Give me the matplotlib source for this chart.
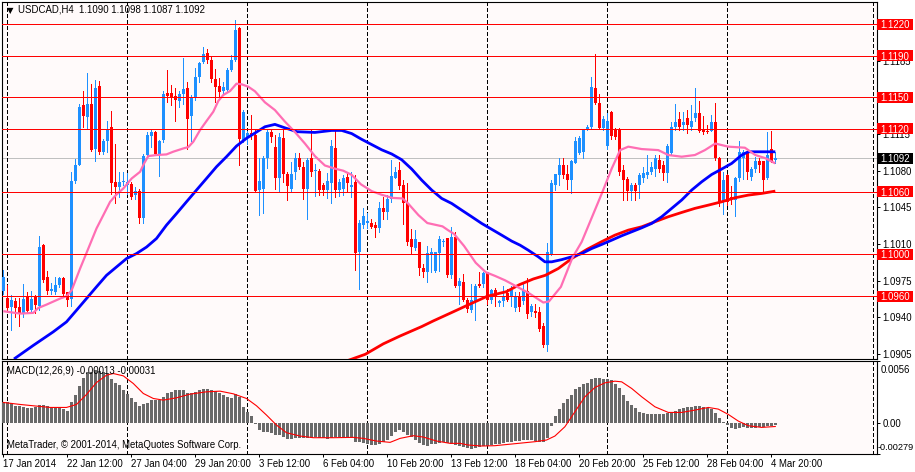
import numpy as np
import matplotlib
matplotlib.use("Agg")
import matplotlib.pyplot as plt
from matplotlib.patches import Rectangle
import matplotlib.transforms as mtransforms

# ---------------- data (prices in pips: 1092 -> 1.1092) ----------------
title_text = "USDCAD,H4  1.1090 1.1098 1.1087 1.1092"
macd_text = "MACD(12,26,9) -0.00013 -0.00031"
copyright_text = "MetaTrader, \u00a9 2001-2014, MetaQuotes Software Corp."

opens = [965,958,950,955,950,944,960,947,959,951,
         1009,978,965,964,971,977,964,957,1070,1085,
         1143,1131,1144,1101,1161,1098,1108,1122,1069,1064,
         1069,1066,1067,1057,1061,1035,1095,1113,1117,1096,
         1109,1154,1154,1151,1147,1153,1159,1132,1150,1170,
         1184,1193,1186,1168,1161,1156,1157,1176,1186,1216,
         1109,1112,1116,1114,1062,1063,1092,1117,1103,1073,
         1111,1077,1063,1079,1092,1084,1063,1092,1080,1080,
         1066,1062,1068,1102,1062,1063,1074,1064,1069,1002,
         1028,1030,1030,1028,1025,1044,1041,1053,1073,1081,
         1066,1049,1015,1006,1012,987,983,999,984,1001,
         1012,1016,980,1017,970,974,956,947,955,972,
         972,983,956,966,954,955,963,959,949,960,
         955,965,945,946,945,932,913,1000,1066,1076,
         1085,1077,1071,1087,1097,1098,1120,1122,1159,1145,
         1121,1104,1136,1119,1120,1081,1072,1061,1066,1066,
         1073,1076,1079,1082,1090,1085,1078,1097,1122,1129,
         1124,1130,1122,1130,1135,1119,1118,1118,1127,1092,
         1050,1076,1055,1052,1073,1092,1098,1074,1082,1089,
         1089,1073,1101,1090]
highs = [985,971,961,958,958,972,964,965,961,1018,
         1010,984,973,978,978,978,964,1079,1091,1144,
         1156,1173,1163,1167,1166,1110,1128,1137,1106,1079,
         1079,1078,1069,1064,1063,1096,1117,1119,1118,1109,
         1156,1176,1162,1159,1156,1188,1165,1152,1178,1184,
         1198,1196,1190,1177,1169,1165,1178,1191,1224,1217,
         1138,1118,1133,1120,1092,1094,1119,1120,1114,1116,
         1120,1079,1088,1097,1097,1088,1092,1120,1086,1082,
         1068,1078,1109,1120,1072,1076,1078,1079,1076,1033,
         1044,1040,1034,1031,1050,1055,1057,1090,1084,1088,
         1071,1068,1024,1023,1012,991,1008,1006,1002,1018,
         1015,1016,1026,1021,977,981,958,972,972,983,
         983,983,967,968,956,970,967,970,964,964,
         972,977,953,953,950,934,1011,1071,1077,1092,
         1092,1085,1090,1112,1113,1120,1124,1170,1192,1153,
         1132,1135,1137,1121,1121,1085,1074,1068,1068,1078,
         1084,1095,1088,1095,1095,1089,1106,1127,1144,1136,
         1136,1138,1143,1159,1147,1132,1124,1133,1145,1093,
         1079,1077,1065,1074,1108,1100,1099,1084,1093,1092,
         1089,1117,1118,1098]
lows = [962,945,928,940,932,940,944,944,944,947,
        974,962,962,962,969,960,951,951,1068,1085,
        1122,1120,1099,1089,1096,1096,1098,1058,1049,1055,
        1066,1058,1053,1053,1030,1030,1092,1103,1095,1075,
        1107,1146,1143,1128,1141,1144,1101,1108,1148,1165,
        1183,1183,1165,1146,1151,1153,1155,1175,1185,1085,
        1107,1106,1110,1060,1038,1040,1083,1107,1063,1061,
        1069,1052,1061,1072,1082,1053,1034,1075,1056,1057,
        1057,1054,1049,1055,1056,1057,1060,1055,985,967,
        1025,1025,1025,1017,1021,1034,1034,1050,1073,1063,
        1029,1009,1001,1004,980,978,974,983,983,984,
        1008,978,977,969,953,955,945,945,937,969,
        969,953,954,951,951,951,955,951,946,946,
        953,939,941,940,927,911,908,999,1062,1066,
        1073,1063,1059,1087,1096,1092,1119,1120,1144,1120,
        1119,1101,1110,1110,1076,1052,1052,1052,1052,1054,
        1069,1073,1077,1075,1079,1071,1069,1095,1119,1119,
        1119,1116,1119,1128,1117,1115,1116,1118,1090,1046,
        1039,1047,1048,1037,1070,1072,1072,1071,1079,1079,
        1061,1072,1088,1087]
closes = [978,949,956,949,944,957,946,957,952,1007,
          976,965,967,971,977,962,956,1070,1085,1141,
          1132,1144,1100,1159,1098,1108,1119,1068,1064,1069,
          1070,1069,1055,1061,1035,1094,1114,1117,1096,1108,
          1153,1151,1150,1148,1153,1158,1129,1150,1170,1183,
          1192,1186,1168,1160,1155,1160,1176,1186,1215,1110,
          1136,1116,1113,1061,1070,1092,1117,1112,1073,1112,
          1077,1065,1077,1092,1084,1063,1090,1079,1081,1062,
          1062,1070,1104,1062,1069,1073,1068,1066,1001,1030,
          1037,1032,1026,1025,1044,1041,1053,1075,1079,1065,
          1049,1012,1007,1015,987,983,1001,1002,1002,1015,
          1013,980,1017,970,975,956,948,956,970,970,
          982,956,966,959,955,959,956,966,960,950,
          966,943,951,944,929,913,1002,1068,1077,1085,
          1076,1071,1089,1108,1111,1119,1122,1160,1145,1121,
          1129,1128,1113,1112,1079,1071,1061,1066,1061,1076,
          1078,1079,1084,1092,1082,1078,1104,1122,1127,1122,
          1127,1124,1128,1135,1118,1117,1117,1127,1092,1050,
          1071,1050,1053,1073,1098,1098,1079,1082,1089,1085,
          1071,1095,1089,1092]

# moving averages: bar position and value (pips)
pink_bars = [0,4.2,7.5,8.75,10.8,14.2,15.8,17.1,19.2,21.25,23.3,25,26.7,28.3,30,
             32.1,34.2,35.2,36.25,38.3,40.8,42.5,45,46.25,47.5,49.2,50.8,52.5,53.75,55,
             56.7,58.3,59.6,61.25,62.9,65.4,67.9,70.4,72.9,75.4,77.9,80.4,82.9,85,87.1,
             89.4,92.1,94.6,97.3,99.8,101.2,103.8,106,109.8,111.25,112.7,115.2,118.1,120.6,122.9,
             125.4,128,131.5,135,136.4,139.4,142.3,144.6,147.1,149.6,152.1,154.2,156.25,159.6,163.75,
             166.25,169.6,172.9,175.4,178,181.25,185.4,188,190.5,193]
pink_vals = [945.7,943.4,944.1,948.8,952,957.8,960,965.8,986.5,1005.6,1024.8,1037.5,1050.3,1057.3,1063,
             1072.6,1079,1087,1094,1095,1095.6,1098.2,1101.3,1102.6,1107.7,1118.9,1127.5,1136.4,1146.7,1152.4,
             1156.2,1163.2,1162.6,1160.3,1156,1145.4,1138,1127,1117,1106,1094,1085,1082,1080,1076,
             1067,1060.5,1057,1054,1053.5,1048.7,1037.5,1030,1026.8,1023,1019.5,1008,992,983,979.5,
             975.3,970,962.7,954,955,969,997,1012,1035,1058,1082,1099.7,1103,1100.7,1099.7,
             1095,1093.4,1095,1099.7,1106,1103,1102,1095,1092,1087]
blue_bars = [2.67,7.5,10,12.5,15.8,18.3,20.8,23.3,25.8,28.3,30.8,33.3,35.8,38.3,40.8,
             43.3,45.8,48.3,50.8,53.3,55.8,58.3,60.8,62.9,65.4,67.9,70.4,73.4,77.9,82.1,
             84.6,87.1,89.6,92.1,94.6,97.1,99.6,102.1,104.6,107.1,109.6,112.1,114.6,117.1,119.6,
             122.1,124.6,127.1,129.2,131.25,133.75,135.4,137.1,139.6,142.1,144.6,147.1,149.6,152.1,154.6,
             157.1,159.6,162.1,164.6,167.1,169.6,172.1,174.6,177.1,179.6,182.1,184.6,186.25,188.75,193]
blue_vals = [900,913,919.5,926,935.5,946.6,957.8,969,980,988,996,1000.8,1007,1015.2,1028,
             1039,1050.3,1061.5,1072.6,1083.8,1093.4,1103.6,1111,1116,1122,1124.3,1121,1117.3,1116.6,1118.5,
             1118.5,1115.5,1110,1105,1100,1096,1090.5,1081.6,1071,1061.5,1053.5,1048.7,1042.3,1036,1029.6,
             1024,1018.4,1012.7,1008.8,1004,997.7,992.9,992.9,995,997.7,1000.8,1005.6,1009.5,1013.6,1017.8,
             1021.6,1025.4,1029.6,1036,1044,1052,1061.5,1069.4,1076.4,1081.6,1087,1095,1098.1,1098.1,1098.1]
red_bars = [85,90.5,95,99.2,104.6,107.5,112.7,115.8,121,125.8,129,132.5,135.5,138.75,142.3,
            146,149.5,152.9,156.25,159.6,162.9,166.25,169.6,172.9,176.25,179.6,182.9,186.25,189.6,193]
red_vals = [897,904.5,914.5,922,931,936.4,945.5,951,960,964.4,971,976.5,980,986.5,996.5,
            1005,1012,1018.4,1023.2,1026.4,1031.2,1036,1040.1,1044,1047.1,1050.3,1054.1,1056.7,1058.3,1060.5]

# MACD main (histogram) in units of 0.00001, one per bar
macd_main = [186,186,177,156,156,147,138,138,147,162,
             162,156,147,138,138,126,111,192,252,336,
             408,462,462,477,468,462,447,402,366,342,
             297,258,222,192,156,168,183,204,207,207,
             237,267,282,294,297,294,273,273,282,300,
             309,309,300,288,267,252,231,228,258,237,
             147,102,63,-12,-63,-84,-84,-93,-108,-108,
             -123,-144,-144,-138,-132,-132,-132,-132,-129,-138,
             -138,-144,-138,-129,-126,-126,-123,-132,-168,-174,
             -180,-192,-198,-198,-192,-174,-156,-114,-84,-63,
             -78,-108,-129,-153,-183,-198,-204,-192,-192,-183,
             -174,-183,-192,-198,-204,-213,-228,-237,-228,-213,
             -204,-204,-198,-192,-186,-183,-174,-168,-162,-159,
             -156,-153,-153,-162,-174,-174,-138,-24,66,126,
             177,213,252,303,327,348,366,402,411,408,
             402,396,387,351,312,252,198,162,132,102,
             87,81,81,81,81,81,87,96,111,123,
             132,141,147,153,153,147,138,126,87,42,
             6,-18,-48,-54,-42,-36,-42,-42,-42,-36,
             -33,-30,-27,-13]
sig_bars = [0,4.2,7.5,11.7,15.8,18.3,20.8,23.3,25.8,27.5,30,32.5,35,37.5,40,
            43.3,46.7,50.8,54.2,57.5,60.8,63.3,65.8,68.3,70.8,74.2,77.5,82.5,87.5,90,
            93.3,96.7,99.2,102.5,105,108.3,111.7,114.2,116.25,119.6,122.9,126.25,129.6,132.9,135.8,
            137.9,140.4,142.9,145.4,147.9,150.4,152.9,154.6,157.1,159.6,162.9,166.25,169.6,172.9,176.25,
            178.75,181.25,183.75,186.25,189.6,193]
sig_vals = [186,168,156,141,141,168,258,366,432,447,426,357,267,222,207,
            228,261,282,288,264,222,156,72,-18,-87,-117,-132,-132,-129,-138,
            -162,-174,-138,-114,-126,-162,-183,-183,-198,-207,-204,-192,-180,-168,-153,
            -117,-33,102,237,321,363,378,372,312,237,147,96,96,117,141,
            126,78,18,-24,-39,-31]

level_prices = [1220, 1190, 1150, 1120, 1060, 1000, 960]
current_price = 1092
price_ticks = [905, 940, 975, 1010, 1045, 1080, 1115, 1150, 1185, 1220]
macd_range = [-0.00279, 0.0056]
x_tick_bars = [0, 16, 32, 48, 64, 80, 96, 112, 128, 144, 160, 176, 192]
x_tick_labels = ["17 Jan 2014", "22 Jan 12:00", "27 Jan 04:00", "29 Jan 20:00",
                 "3 Feb 12:00", "6 Feb 04:00", "10 Feb 20:00", "13 Feb 12:00",
                 "18 Feb 04:00", "20 Feb 20:00", "25 Feb 12:00", "28 Feb 04:00",
                 "4 Mar 20:00"]
grid_bars = [1, 31, 61, 91, 121, 151, 181, 217.35]

# ---------------- drawing ----------------
def P(v):
    return 1.0 + np.asarray(v, dtype=float) / 1e4

W, H = 915, 472
plt.rcParams['font.family'] = ['Liberation Sans', 'DejaVu Sans']
FS = 6.9
BG = '#FFFAFA'
BULL = '#1E90FF'
BEAR = '#FF0000'
ONE_PX = 0.72

fig = plt.figure(figsize=(W / 100, H / 100), dpi=100)
fig.patch.set_facecolor('white')

def rect(l, t, r, b):
    return [l / W, 1 - b / H, (r - l) / W, (b - t) / H]

ax = fig.add_axes(rect(2, 2, 877, 359))
ax2 = fig.add_axes(rect(2, 361, 877, 454))
XL = (-0.325, 218.425)
for a in (ax, ax2):
    a.set_facecolor(BG)
    a.set_xlim(*XL)
    for s in a.spines.values():
        s.set_color('black')
        s.set_linewidth(0.8)
    for gb in grid_bars:
        a.axvline(gb, color='black', lw=ONE_PX, ls=(0, (4, 2.6)), zorder=1.2,
                  antialiased=False)

ax.set_ylim(1.0900, 1.12413)

o = P(opens); h = P(highs); l = P(lows); c = P(closes)
idx = np.arange(len(closes))
bull = c >= o
cols = np.where(bull, BULL, BEAR)

# current price line
ax.axhline(P(current_price), color='#C0C0C0', lw=ONE_PX, zorder=1.1, antialiased=False)

ax.vlines(idx, l, h, colors=cols, lw=ONE_PX, antialiased=False, zorder=3)
bot = np.minimum(o, c)
hgt = np.maximum(np.abs(c - o), 1.0e-4)
ax.bar(idx, hgt, bottom=bot, width=0.75, color=cols, linewidth=0,
       antialiased=False, zorder=3)

ax.plot(red_bars, P(red_vals), color='#FF0000', lw=2.0, zorder=4, solid_capstyle='butt')
ax.plot(blue_bars, P(blue_vals), color='#0000FF', lw=2.0, zorder=4.2, solid_capstyle='butt')
ax.plot(pink_bars, P(pink_vals), color='#FF6EB4', lw=1.6, zorder=4.4, solid_capstyle='butt')

for lv in level_prices:
    ax.axhline(P(lv), color='#FF0000', lw=ONE_PX, zorder=5, antialiased=False)

# right price axis (labels fully hidden behind level boxes are left blank)
ax.yaxis.tick_right()
ax.set_yticks(P(price_ticks))
ax.set_yticklabels([("" if t in level_prices else f"{p:.4f}")
                    for t, p in zip(price_ticks, P(price_ticks))])
ax.tick_params(axis='y', direction='out', length=2.2, width=ONE_PX, pad=1.6,
               labelsize=FS, colors='black')
ax.tick_params(axis='x', bottom=False, labelbottom=False)

trans = mtransforms.blended_transform_factory(ax.transAxes, ax.transData)
px_per_unit = 357 / (1.12413 - 1.0900)
bw = 36 / 875
bh = 11 / px_per_unit
for lv, fc in [(v, '#FF0000') for v in level_prices] + [(current_price, 'black')]:
    p = float(P(lv))
    ax.add_patch(Rectangle((1.0, p - bh / 2), bw, bh, transform=trans, facecolor=fc,
                           edgecolor='none', clip_on=False, zorder=10))
    ax.text(1.0 + bw / 2, p, f"{p:.4f}", transform=trans, color='white', ha='center',
            va='center_baseline', fontsize=FS, zorder=11, clip_on=False)

# MACD panel
ax2.set_ylim(*macd_range)
ax2.bar(idx, np.array(macd_main) * 1e-5, width=0.75, color='#696969', linewidth=0,
        antialiased=False, zorder=3)
ax2.plot(sig_bars, np.array(sig_vals) * 1e-5, color='#FF0000', lw=0.8, zorder=4)
ax2.yaxis.tick_right()
ax2.set_yticks([macd_range[0], 0.0, macd_range[1]])
ax2.set_yticklabels(['', '0.00', ''])
ax2.tick_params(axis='y', direction='out', length=2.2, width=ONE_PX, pad=1.6,
                labelsize=FS, colors='black')
ax2.annotate(f"{macd_range[1]:.4f}", xy=(1.0, macd_range[1]), xycoords=('axes fraction', 'data'),
             xytext=(2.8, -3.0), textcoords='offset points', va='top', ha='left', fontsize=FS)
ax2.annotate(f"{macd_range[0]:.5f}", xy=(1.0, macd_range[0]), xycoords=('axes fraction', 'data'),
             xytext=(0.6, 1.5), textcoords='offset points', va='bottom', ha='left', fontsize=FS - 0.3)

ax2.set_xticks(x_tick_bars)
ax2.set_xticklabels(x_tick_labels)
for lbl in ax2.get_xticklabels():
    lbl.set_horizontalalignment('left')
ax2.tick_params(axis='x', direction='out', length=2.2, width=ONE_PX, pad=1.5,
                labelsize=FS, colors='black')

# texts
fig.text(7 / W, 1 - 11 / H, '\u25bc', fontsize=6, family='DejaVu Sans', va='center', ha='left')
fig.text(18 / W, 1 - 10 / H, title_text, fontsize=FS, va='center', ha='left')
fig.text(7 / W, 1 - 370.5 / H, macd_text, fontsize=FS, va='center', ha='left')
fig.text(7 / W, 1 - 445.5 / H, copyright_text, fontsize=FS, va='center', ha='left')

fig.savefig('out.png', dpi=100, facecolor='white')
